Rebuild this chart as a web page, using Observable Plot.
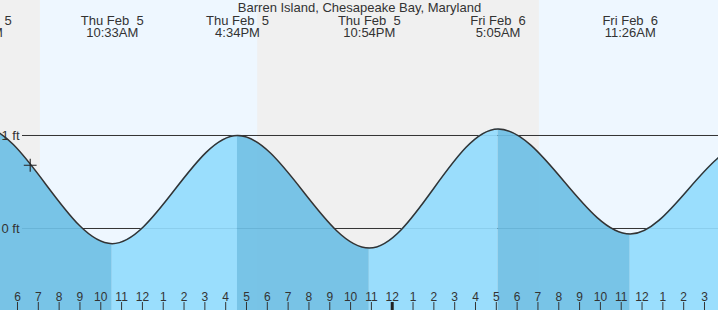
<!DOCTYPE html>
<html>
<head>
<meta charset="utf-8">
<script src="https://cdn.jsdelivr.net/npm/d3@7"></script>
<script src="https://cdn.jsdelivr.net/npm/@observablehq/plot@0.6"></script>
<style>
  html, body { margin: 0; padding: 0; background: #fff; overflow: hidden; }
  #chart svg { display: block; }
</style>
</head>
<body>
<div id="chart"></div>
<script>
// ---- data (hours counted from Thu Feb 5, 00:00) ----
const title = "Barren Island, Chesapeake Bay, Maryland";

// high / low tide extremes (the first and last two lie outside the visible window)
const extremeHours = [-2.0, 4.217, 10.55, 16.567, 22.9, 29.083, 35.433, 41.0, 47.5];
const extremeFeet  = [-0.15, 1.10, -0.163, 1.00, -0.21, 1.07, -0.06, 0.90, -0.20];
const extremeDays  = ["", "Thu Feb  5", "Thu Feb  5", "Thu Feb  5", "Thu Feb  5", "Fri Feb  6", "Fri Feb  6", "", ""];
const extremeTimes = ["", "4:13AM", "10:33AM", "4:34PM", "10:54PM", "5:05AM", "11:26AM", "", ""];

// daylight (sunrise -> sunset)
const dayStarts = [7.10, 31.07];
const dayEnds   = [17.54, 41.56];

// current-time marker
const nowHours = [6.61];
const nowFeet  = [0.68];

// y reference lines
const refFeet   = [1, 0];
const refLabels = ["1 ft", "0 ft"];

// hour ticks along the bottom
const tickHours  = [6,7,8,9,10,11,12,13,14,15,16,17,18,19,20,21,22,23,24,25,26,27,28,29,30,31,32,33,34,35,36,37,38,39];
const tickLabels = ["6","7","8","9","10","11","12","1","2","3","4","5","6","7","8","9","10","11","12","1","2","3","4","5","6","7","8","9","10","11","12","1","2","3"];
const midnightHours = [24];

// ---- build tables ----
const tide = extremeHours.map((t, i) => ({t, h: extremeFeet[i]}));
const segments = tide.slice(1).map((d, i) => ({
  t1: tide[i].t, t2: d.t, falling: d.h < tide[i].h
}));
const labels = tide
  .map((d, i) => ({t: d.t, text: extremeDays[i].replace("  ", " \u00a0") + "\n" + extremeTimes[i]}))
  .filter((d, i) => extremeTimes[i] !== "");
const days = dayStarts.map((s, i) => ({start: s, end: dayEnds[i]}));
const refs = refFeet.map((v, i) => ({v, label: refLabels[i]}));
const ticks = tickHours.map((t, i) => ({t, label: tickLabels[i]}));
const now = nowHours.map((t, i) => ({t, h: nowFeet[i]}));

const xDomain = [5.18341, 39.6728];
const yDomain = [-0.88172, 2.45161];
const ink = "#333";
const darkBlue = "#6ebfe5";
const lightBlue = "#93dbfd";

const svg = Plot.plot({
  width: 718,
  height: 310,
  margin: 0,
  x: {domain: xDomain, axis: null},
  y: {domain: yDomain, axis: null},
  color: {type: "identity"},
  style: {fontFamily: "'Liberation Sans', Arial, Helvetica, sans-serif", background: "#f0f0f0", color: ink},
  marks: [
    Plot.rect(days, {x1: "start", x2: "end", fill: "#eef7ff"}),
    Plot.ruleY(refs, {y: "v", stroke: ink, strokeWidth: 1, insetLeft: 22}),
    Plot.areaY(tide, {x: "t", y1: () => yDomain[0], y2: "h", curve: "monotone-x", fill: "none"}),
    Plot.rect(segments, {x1: "t1", x2: "t2", fill: d => d.falling ? darkBlue : lightBlue, fillOpacity: 0.92}),
    Plot.text(refs, {y: "v", text: "label", frameAnchor: "left", textAnchor: "start", dx: 1, fontSize: 13, fill: ink}),
    Plot.line(tide, {x: "t", y: "h", curve: "monotone-x", stroke: ink, strokeWidth: 1.5}),
    Plot.dot(now, {x: "t", y: "h", symbol: "plus", r: 4.2, stroke: "#222", strokeWidth: 1.1}),
    Plot.text([title], {text: d => d, frameAnchor: "top", lineAnchor: "top", dy: 2, fontSize: 13, fill: ink}),
    Plot.text(labels, {x: "t", text: "text", frameAnchor: "top", lineAnchor: "top", dy: 16, lineHeight: 0.923, fontSize: 13, fill: ink}),
    Plot.ruleX(ticks, {x: "t", stroke: ink, strokeWidth: 1, insetTop: 302}),
    Plot.ruleX(midnightHours, {x: d => d, stroke: "#222", strokeWidth: 3, insetTop: 302}),
    Plot.text(ticks, {x: "t", text: "label", frameAnchor: "bottom", lineAnchor: "top", dy: -18.3, fontSize: 12, fill: ink})
  ]
});

// clip the coloured rising / falling bands to the area under the tide curve
(function () {
  const ns = "http://www.w3.org/2000/svg";
  const areaG = svg.querySelector('g[aria-label="area"]');
  const rectGs = svg.querySelectorAll('g[aria-label="rect"]');
  const segG = rectGs[rectGs.length - 1];
  if (!areaG || !segG) return;
  const areaPath = areaG.querySelector("path");
  const defs = document.createElementNS(ns, "defs");
  const cp = document.createElementNS(ns, "clipPath");
  cp.setAttribute("id", "tide-clip");
  const p = document.createElementNS(ns, "path");
  p.setAttribute("d", areaPath.getAttribute("d"));
  const tr = [areaG.getAttribute("transform"), areaPath.getAttribute("transform")].filter(Boolean).join(" ");
  if (tr) p.setAttribute("transform", tr);
  cp.appendChild(p);
  defs.appendChild(cp);
  svg.insertBefore(defs, svg.firstChild);
  const wrap = document.createElementNS(ns, "g");
  wrap.setAttribute("clip-path", "url(#tide-clip)");
  segG.parentNode.insertBefore(wrap, segG);
  wrap.appendChild(segG);
})();

document.getElementById("chart").appendChild(svg);
</script>
</body>
</html>
